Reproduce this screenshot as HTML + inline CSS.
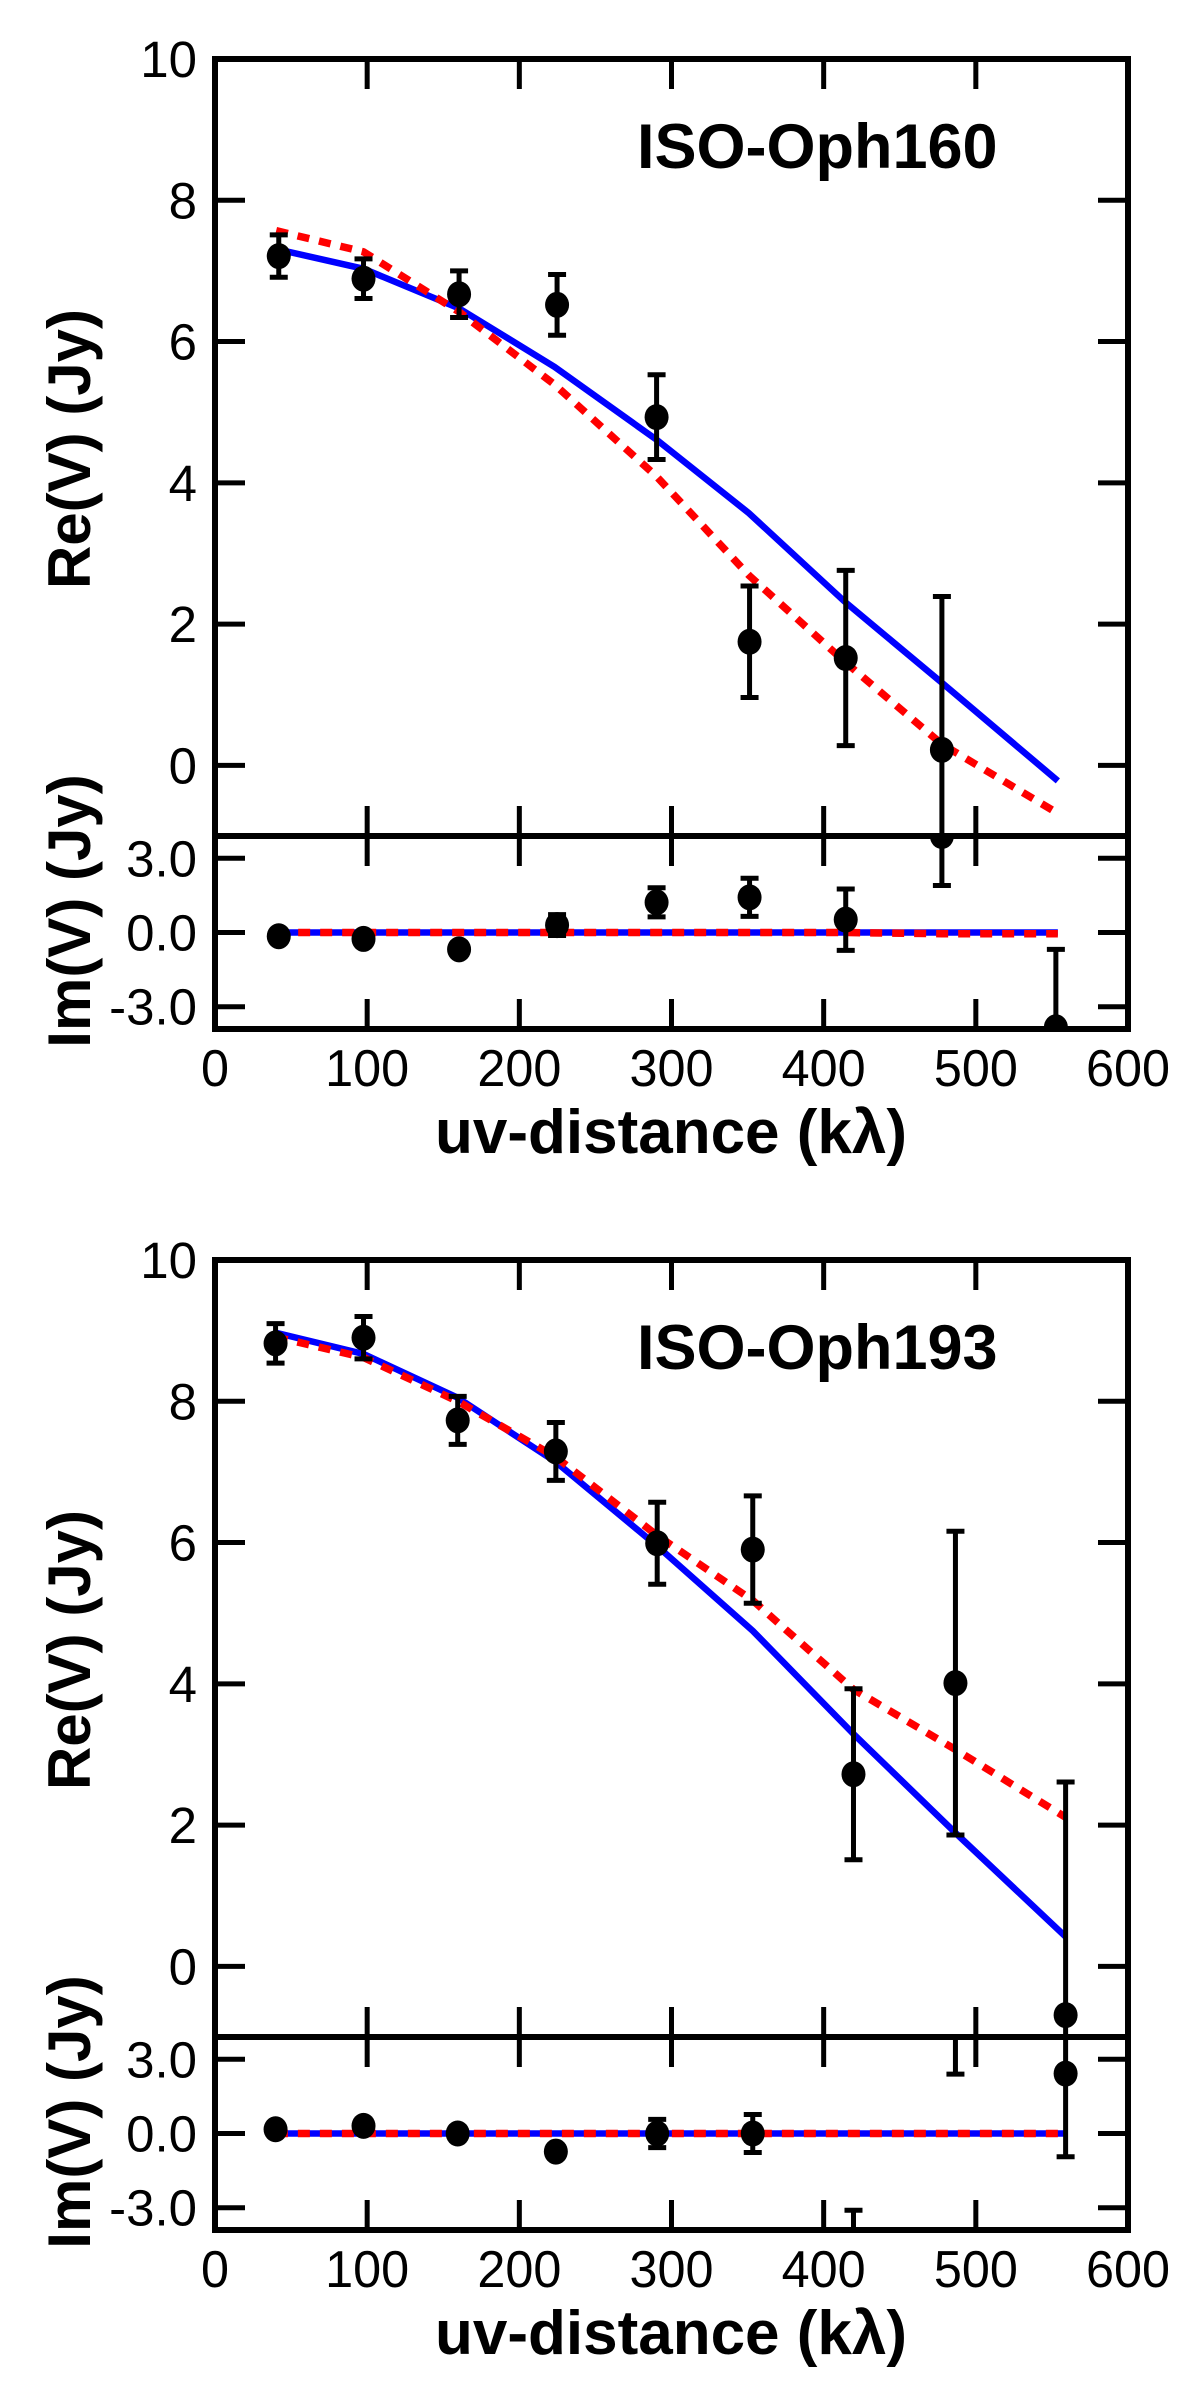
<!DOCTYPE html>
<html><head><meta charset="utf-8"><style>
html,body{margin:0;padding:0;background:#fff;}
svg{display:block;}
text{font-family:"Liberation Sans",Arial,sans-serif;fill:#000;}
</style></head><body>
<svg id="chart" width="1200" height="2407" viewBox="0 0 1200 2407" xmlns="http://www.w3.org/2000/svg"></svg>
<script>
// ---- data: panel 1 (ISO-Oph160) ----
const uv1 = [41.9, 97.6, 160.4, 224.8, 290.2, 351.3, 414.5, 477.7, 552.6];
const re1 = [7.21, 6.89, 6.67, 6.52, 4.93, 1.75, 1.52, 0.22, -5.0];
const reErr1 = [0.30, 0.28, 0.33, 0.43, 0.60, 0.79, 1.24, 2.17, 3.0];
const im1 = [-0.15, -0.26, -0.68, 0.30, 1.22, 1.42, 0.52, 3.9, -3.83];
const imErr1 = [0.1, 0.1, 0.1, 0.42, 0.59, 0.77, 1.24, 2.0, 3.15];
const modelUv1 = [40.2, 97.6, 160.4, 223.2, 290.2, 350.9, 413.7, 477.7, 553.9];
const blueRe1 = [7.31, 7.03, 6.47, 5.64, 4.61, 3.57, 2.32, 1.17, -0.22];
const redRe1 = [7.57, 7.27, 6.42, 5.39, 4.09, 2.69, 1.47, 0.30, -0.68];
const blueIm1 = [0, 0, 0, 0, 0, 0, 0, 0, 0];
const redIm1 = [0, 0, 0, 0, 0, 0, 0, -0.05, -0.05];
// ---- data: panel 2 (ISO-Oph193) ----
const uv2 = [39.8, 97.6, 159.5, 224.0, 290.6, 353.4, 419.6, 486.6, 559.0];
const re2 = [8.82, 8.90, 7.73, 7.29, 5.99, 5.90, 2.72, 4.01, -0.69];
const reErr2 = [0.28, 0.30, 0.34, 0.41, 0.58, 0.76, 1.21, 2.15, 3.3];
const im2 = [0.17, 0.31, 0.0, -0.73, 0.0, 0.0, -4.3, 4.5, 2.42];
const imErr2 = [0.1, 0.1, 0.1, 0.1, 0.57, 0.77, 1.2, 2.1, 3.36];
const modelUv2 = [40.0, 97.6, 159.5, 224.0, 290.6, 353.4, 419.6, 486.6, 559.0];
const blueRe2 = [8.97, 8.67, 8.05, 7.14, 5.95, 4.75, 3.29, 1.89, 0.42];
const redRe2 = [8.91, 8.62, 8.00, 7.21, 6.10, 5.18, 3.92, 3.07, 2.11];
const blueIm2 = [0, 0, 0, 0, 0, 0, 0, 0, 0];
const redIm2 = [0, 0, 0, 0, 0, 0, 0, 0, 0];
// ---- ticks ----
const xTicks = [0, 100, 200, 300, 400, 500, 600];
const reTicks = [0, 2, 4, 6, 8, 10];
const imTicks = [-3, 0, 3];
const imTickLabels = ["-3.0", "0.0", "3.0"];
const titles = ["ISO-Oph160", "ISO-Oph193"];

const NS = "http://www.w3.org/2000/svg";
const svg = document.getElementById("chart");
function mk(tag, attrs, parent) {
  const e = document.createElementNS(NS, tag);
  for (const k in attrs) e.setAttribute(k, attrs[k]);
  (parent || svg).appendChild(e);
  return e;
}
const L = 215, R = 1128;
const xs = u => L + (u - 0) / 600 * (R - L);

function panel(off, idx, uv, re, reErr, im, imErr, muv, bRe, rRe, bIm, rIm) {
  const reTop = 59 + off, reBot = 836 + off, imTop = 836 + off, imBot = 1029 + off;
  const yRe = v => reBot - (v - (-1)) / 11 * (reBot - reTop);
  const yIm = v => imBot - (v - (-3.9)) / 7.8 * (imBot - imTop);
  const g = mk("g", {});
  
  
  const defs = mk("defs", {}, g);
  const c1 = mk("clipPath", {id: "cre" + idx}, defs);
  mk("rect", {x: L, y: reTop, width: R - L, height: reBot - reTop}, c1);
  const c2 = mk("clipPath", {id: "cim" + idx}, defs);
  mk("rect", {x: L, y: imTop, width: R - L, height: imBot - imTop}, c2);

  function series(clip, ys, mx, bv, rv, vals, errs, vx, nm) {
    const sg = mk("g", {"clip-path": "url(#" + clip + ")"}, g);
    
    
    const bl = mk("polyline", {points: mx.map((u, i) => xs(u) + "," + ys(bv[i])).join(" "), fill: "none", stroke: "#0000ff", "stroke-width": 6.5}, sg);
    
    
    const rl = mk("polyline", {points: mx.map((u, i) => xs(u) + "," + ys(rv[i])).join(" "), fill: "none", stroke: "#ff0000", "stroke-width": 7.5, "stroke-dasharray": "12 10"}, sg);
    
    
    vx.forEach((u, i) => {
      const x = xs(u), y = ys(vals[i]), yt = ys(vals[i] + errs[i]), yb = ys(vals[i] - errs[i]);
      const eb = mk("path", {d: `M${x},${yt}V${yb}M${x - 9},${yt}H${x + 9}M${x - 9},${yb}H${x + 9}`, stroke: "#000", "stroke-width": 5, fill: "none"}, sg);
      
      
      const d = mk("ellipse", {cx: x, cy: y, rx: 12, ry: 13, fill: "#000"}, sg);
      
      
    });
  }
  series("cre" + idx, yRe, muv, bRe, rRe, re, reErr, uv, "re");
  series("cim" + idx, yIm, muv, bIm, rIm, im, imErr, uv, "im");

  const f1 = mk("rect", {x: L, y: reTop, width: R - L, height: reBot - reTop, fill: "none", stroke: "#000", "stroke-width": 6}, g);
  
  
  const f2 = mk("rect", {x: L, y: imTop, width: R - L, height: imBot - imTop, fill: "none", stroke: "#000", "stroke-width": 6}, g);
  
  
  let d = "";
  xTicks.forEach(t => {
    const x = xs(t);
    if (t > 0 && t < 600) {
      d += `M${x},${reTop}v30M${x},${reBot}v-30M${x},${imTop}v30M${x},${imBot}v-30`;
    }
  });
  reTicks.forEach(t => { const y = yRe(t); if (t < 10) d += `M${L},${y}h30M${R},${y}h-30`; });
  imTicks.forEach(t => { const y = yIm(t); d += `M${L},${y}h30M${R},${y}h-30`; });
  const tk = mk("path", {d: d, stroke: "#000", "stroke-width": 5, fill: "none"}, g);
  
  
  xTicks.forEach(t => {
    const e = mk("text", {x: xs(t), y: 1086 + off, "text-anchor": "middle", "font-size": 52, "textLength": String(t).length * 28, "lengthAdjust": "spacingAndGlyphs"}, g);
    e.textContent = t;
    
    
  });
  reTicks.forEach(t => {
    const e = mk("text", {x: 197, y: yRe(t) + 18, "text-anchor": "end", "font-size": 51}, g);
    e.textContent = t;
    
    
  });
  imTicks.forEach((t, i) => {
    const e = mk("text", {x: 197, y: yIm(t) + 18, "text-anchor": "end", "font-size": 51}, g);
    e.textContent = imTickLabels[i];
    
    
  });
  const xt = mk("text", {x: 671, y: 1153 + off, "text-anchor": "middle", "font-size": 62, "font-weight": "bold"}, g);
  xt.textContent = "uv-distance (kλ)";
  
  
  const yt1 = mk("text", {x: 0, y: 0, transform: `translate(90,${449 + off}) rotate(-90)`, "text-anchor": "middle", "font-size": 60, "font-weight": "bold"}, g);
  yt1.textContent = "Re(V) (Jy)";
  
  
  const yt2 = mk("text", {x: 0, y: 0, transform: `translate(90,${911 + off}) rotate(-90)`, "text-anchor": "middle", "font-size": 60, "font-weight": "bold"}, g);
  yt2.textContent = "Im(V) (Jy)";
  
  
  const tt = mk("text", {x: 637, y: 168 + off, "font-size": 63, "font-weight": "bold"}, g);
  tt.textContent = titles[idx];
  
  
}
panel(0, 0, uv1, re1, reErr1, im1, imErr1, modelUv1, blueRe1, redRe1, blueIm1, redIm1);
panel(1201, 1, uv2, re2, reErr2, im2, imErr2, modelUv2, blueRe2, redRe2, blueIm2, redIm2);
</script>
</body></html>
